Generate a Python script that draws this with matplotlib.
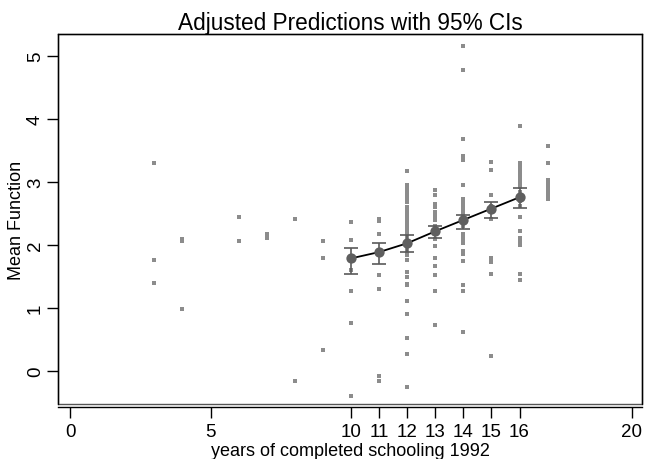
import numpy as np
import matplotlib
matplotlib.use('Agg')
import matplotlib.pyplot as plt
from matplotlib.patches import Rectangle

plt.rcParams['font.family'] = ['Liberation Sans', 'DejaVu Sans']

# observed data, grouped by years of schooling
obs = {
    3: [3.30, 1.76, 1.40],
    4: [2.10, 2.07, 0.99],
    6: [2.44, 2.06],
    7: [2.18, 2.12],
    8: [2.42, -0.16],
    9: [2.06, 1.80, 0.33],
    10: [2.37, 2.08, 1.61, 1.27, 0.76, -0.39],
    11: [2.42, 2.38, 2.18, 1.52, 1.31, -0.08, -0.16],
    12: [3.17, 2.96, 2.92, 2.88, 2.84, 2.78, 2.74, 2.68, 2.60, 2.56, 2.52, 2.47,
         2.42, 2.38, 2.33, 2.28, 2.25, 2.20, 2.15, 2.10, 2.05, 2.00, 1.95, 1.90,
         1.85, 1.76, 1.58, 1.49, 1.38, 1.36, 1.11, 0.90, 0.52, 0.27, -0.25],
    13: [2.87, 2.80, 2.65, 2.61, 2.53, 2.47, 2.40, 2.31, 2.28, 2.24, 2.18, 2.10,
         1.98, 1.79, 1.67, 1.53, 1.28, 0.73],
    14: [5.16, 4.78, 3.69, 3.41, 3.35, 2.96, 2.74, 2.70, 2.66, 2.62, 2.58, 2.54,
         2.50, 2.45, 2.40, 2.35, 2.30, 2.17, 2.14, 2.10, 2.03, 1.91, 1.86, 1.75,
         1.37, 1.27, 0.62],
    15: [3.32, 3.19, 2.79, 2.62, 2.55, 2.41, 1.80, 1.74, 1.54, 0.24],
    16: [3.89, 3.31, 3.27, 3.22, 3.17, 3.12, 3.07, 3.02, 2.97, 2.93, 2.85, 2.79,
         2.70, 2.62, 2.44, 2.23, 2.12, 2.08, 2.04, 2.00, 1.55, 1.44],
    17: [3.57, 3.31, 3.03, 2.97, 2.91, 2.85, 2.79, 2.73],
}

# adjusted predictions and 95% CIs
pred_x = [10, 11, 12, 13, 14, 15, 16]
pred_y = [1.79, 1.89, 2.03, 2.22, 2.40, 2.58, 2.76]
ci_lo = [1.55, 1.70, 1.89, 2.12, 2.25, 2.43, 2.59]
ci_hi = [1.96, 2.03, 2.16, 2.31, 2.48, 2.69, 2.91]

xticks = [0, 5, 10, 11, 12, 13, 14, 15, 16, 20]
yticks = [0, 1, 2, 3, 4, 5]

sx = [k for k, v in obs.items() for _ in v]
sy = [y for v in obs.values() for y in v]

fig = plt.figure(figsize=(6.46, 4.6), dpi=100)
ax = fig.add_axes([58 / 646, 1 - 405 / 460, 584 / 646, 370 / 460])

ax.scatter(sx, sy, s=10, marker='s', color='#8c8c8c', linewidths=0, zorder=2)

yerr = [np.array(pred_y) - np.array(ci_lo), np.array(ci_hi) - np.array(pred_y)]
ax.errorbar(pred_x, pred_y, yerr=yerr, fmt='none', ecolor='#5a5a5a',
            elinewidth=1.2, capsize=5, capthick=1.2, zorder=3)
ax.plot(pred_x, pred_y, color='black', lw=1.3, zorder=4)
ax.scatter(pred_x, pred_y, s=55, color='#5f5f5f', linewidths=0, zorder=5)

ax.set_xlim(-0.43, 20.36)
ax.set_ylim(-0.52, 5.35)
ax.set_xticks(xticks)
ax.set_yticks(yticks)
ax.tick_params(axis='both', direction='out', length=8, width=1, labelsize=13.5)
ax.tick_params(axis='x', pad=4)
ax.tick_params(axis='y', pad=2)
for lab in ax.get_yticklabels():
    lab.set_rotation(90)
    lab.set_va('center')

for s in ['top', 'right', 'left']:
    ax.spines[s].set_linewidth(1)
ax.spines['bottom'].set_position(('outward', 2))
ax.spines['bottom'].set_linewidth(1)
ax.add_patch(Rectangle((0, 0), 1, 1, transform=ax.transAxes, fill=False,
                       edgecolor='#555555', lw=1, clip_on=False, zorder=1))

ax.set_title('Adjusted Predictions with 95% CIs', fontsize=16.3, pad=1.5)
ax.set_xlabel('years of completed schooling 1992', fontsize=13, labelpad=1)
ax.set_ylabel('Mean Function', fontsize=13, labelpad=1.5)

fig.savefig('out.png', dpi=100)
